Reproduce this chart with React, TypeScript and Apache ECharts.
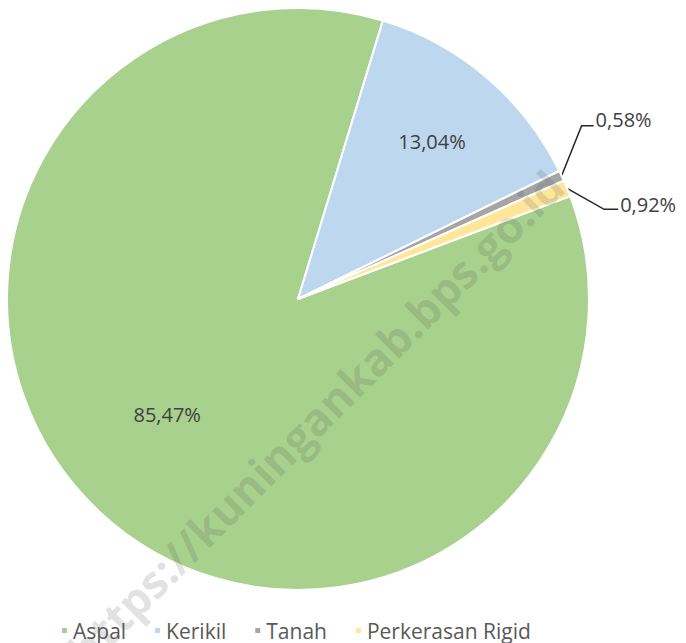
import React, { useEffect, useRef } from "react";
import * as echarts from "echarts";

const categories = ["Aspal", "Kerikil", "Tanah", "Perkerasan Rigid"];
const values = [85.47, 13.04, 0.58, 0.92];
const colors = ["#a9d18e", "#bdd7ee", "#a5a5a5", "#ffe699"];
const watermark = "https://kuningankab.bps.go.id";

const CX = 298;
const CY = 299;
const R = 291;
const START = 20.7;
// inside-label placement (fraction of radius, angle shift in degrees)
const labelFrac = [0.6, 0.71];
const labelShift = [-5.4, 0];

function fmt(v: number) {
  return v.toFixed(2).replace(".", ",") + "%";
}

function midAngle(i: number) {
  const total = values.reduce((a, b) => a + b, 0);
  let acc = 0;
  for (let k = 0; k < i; k++) acc += values[k];
  const a0 = START - (acc / total) * 360;
  const span = (values[i] / total) * 360;
  return a0 - span / 2;
}

export default function App() {
  const ref = useRef<HTMLDivElement>(null);
  useEffect(() => {
    const chart = echarts.init(ref.current!, null, { renderer: "svg" });
    const font = '"Open Sans", "Noto Sans", sans-serif';
    chart.setOption({
      animation: false,
      backgroundColor: "#ffffff",
      legend: {
        left: 55,
        top: 615,
        icon: "rect",
        itemWidth: 7,
        itemHeight: 7,
        itemGap: 27,
        textStyle: { fontSize: 21, color: "#595959", fontFamily: font },
        data: categories,
      },
      series: [
        {
          type: "pie",
          center: [CX, CY],
          radius: R,
          startAngle: START,
          clockwise: true,
          avoidLabelOverlap: false,
          itemStyle: { borderColor: "#ffffff", borderWidth: 2 },
          label: {
            show: true,
            position: "outside",
            formatter: (p: any) => fmt(p.value),
            fontSize: 20,
            color: "#404040",
            fontFamily: font,
          },
          labelLine: {
            show: true,
            length: 10,
            length2: 10,
            lineStyle: { color: "#262626", width: 1.5 },
          },
          labelLayout: (params: any) => {
            const i = params.dataIndex;
            if (i < 2) {
              const a = ((midAngle(i) + labelShift[i]) * Math.PI) / 180;
              return {
                x: CX + Math.cos(a) * R * labelFrac[i],
                y: CY - Math.sin(a) * R * labelFrac[i],
                align: "center",
                verticalAlign: "middle",
              };
            }
            const p = params.labelLinePoints;
            if (!p) return {};
            const s = p[0];
            if (i === 2) {
              return {
                x: s[0] + 34,
                y: s[1] - 56,
                align: "left",
                verticalAlign: "middle",
                labelLinePoints: [s, [s[0] + 20, s[1] - 50], [s[0] + 32, s[1] - 50]],
              };
            }
            return {
              x: s[0] + 53,
              y: s[1] + 16,
              align: "left",
              verticalAlign: "middle",
              labelLinePoints: [s, [s[0] + 37, s[1] + 21], [s[0] + 51, s[1] + 21]],
            };
          },
          data: categories.map((name, i) => ({
            name,
            value: values[i],
            itemStyle: { color: colors[i] },
            labelLine: { show: i >= 2 },
          })),
        },
      ],
      graphic: [
        {
          type: "text",
          x: 315,
          y: 418,
          rotation: Math.PI / 4,
          silent: true,
          z: 100,
          style: {
            text: watermark,
            font: 'bold 45px "Open Sans", sans-serif',
            fill: "rgba(70,70,70,0.16)",
            textAlign: "center",
            textVerticalAlign: "middle",
          },
        },
      ],
    });
    return () => chart.dispose();
  }, []);
  return (
    <div
      ref={ref}
      style={{ position: "fixed", left: 0, top: 0, width: 686, height: 643 }}
    />
  );
}
